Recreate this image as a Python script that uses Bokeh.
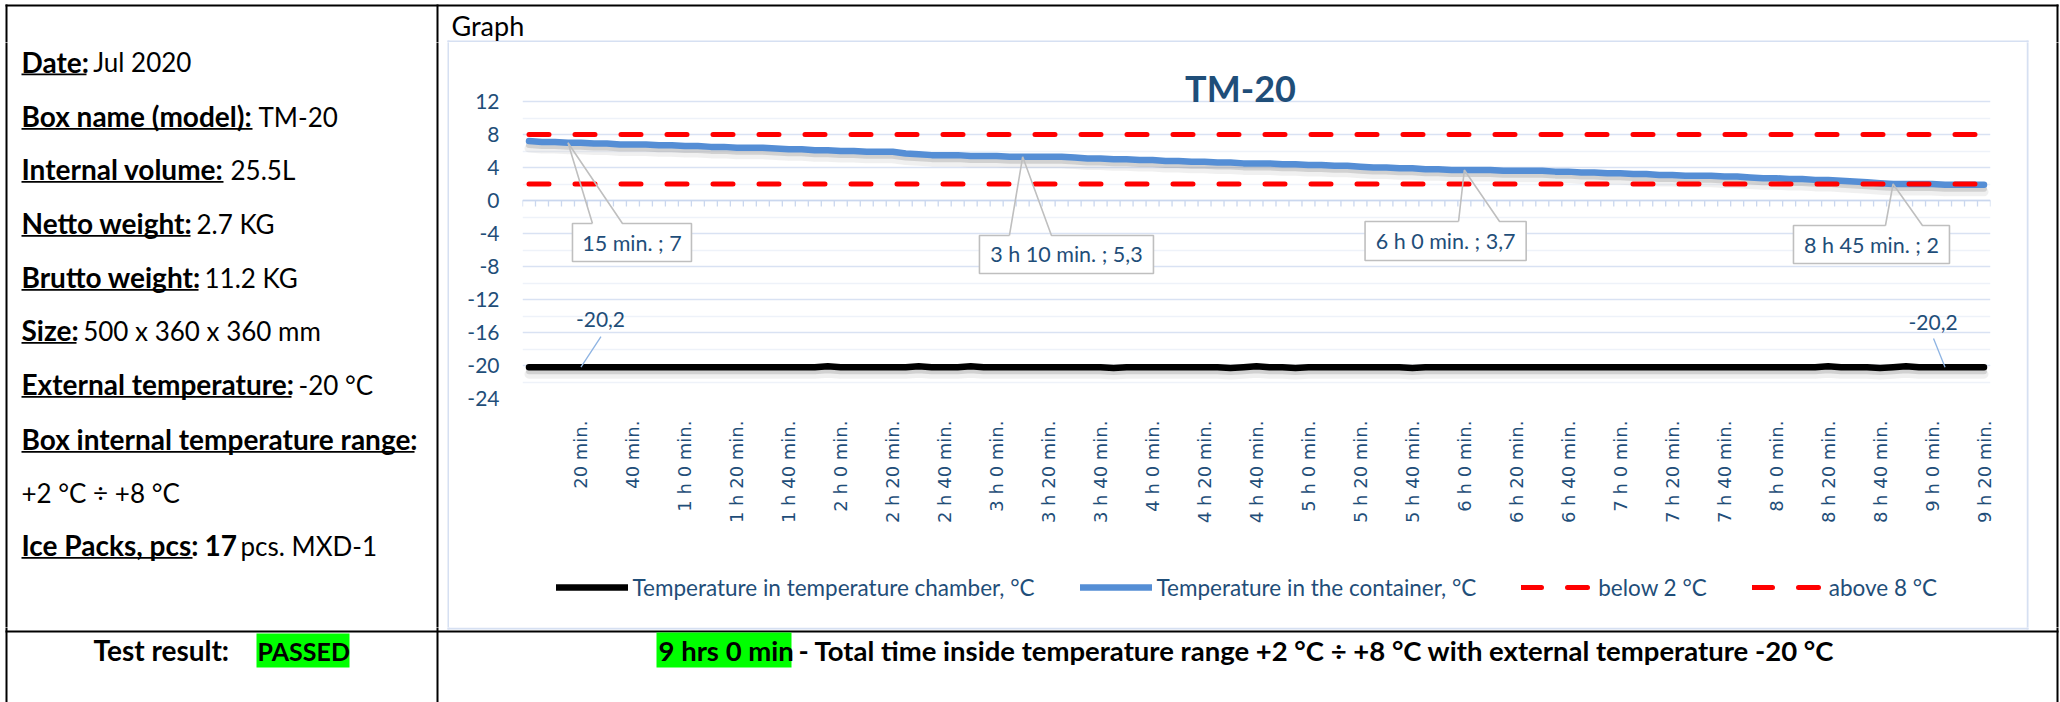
import math
from bokeh.plotting import figure
from bokeh.layouts import column, row
from bokeh.models import (ColumnDataSource, Range1d, FixedTicker, Legend, LegendItem)
from bokeh.core.properties import value
from bokeh.transform import dodge
from bokeh.embed import file_html
from bokeh.resources import INLINE

# ---------------------------------------------------------------- data
MINUTES = list(range(0, 565, 5))          # category axis: every 5 minutes

CHAMBER = [
    -20.2, -20.2, -20.2, -20.2, -20.2, -20.2, -20.2, -20.2, -20.2, -20.2,
    -20.2, -20.2, -20.2, -20.2, -20.2, -20.2, -20.2, -20.2, -20.2, -20.2,
    -20.2, -20.2, -20.2, -20.1, -20.2, -20.2, -20.2, -20.2, -20.2, -20.2,
    -20.1, -20.2, -20.2, -20.2, -20.1, -20.2, -20.2, -20.2, -20.2, -20.2,
    -20.2, -20.2, -20.2, -20.2, -20.2, -20.3, -20.2, -20.2, -20.2, -20.2,
    -20.2, -20.2, -20.2, -20.2, -20.3, -20.2, -20.1, -20.2, -20.2, -20.3,
    -20.2, -20.2, -20.2, -20.2, -20.2, -20.2, -20.2, -20.2, -20.3, -20.2,
    -20.2, -20.2, -20.2, -20.2, -20.2, -20.2, -20.2, -20.2, -20.2, -20.2,
    -20.2, -20.2, -20.2, -20.2, -20.2, -20.2, -20.2, -20.2, -20.2, -20.2,
    -20.2, -20.2, -20.2, -20.2, -20.2, -20.2, -20.2, -20.2, -20.2, -20.2,
    -20.1, -20.2, -20.2, -20.2, -20.3, -20.2, -20.1, -20.2, -20.2, -20.2,
    -20.2, -20.2, -20.2,
]

CONTAINER = [
    7.2, 7.1, 7.1, 7.0, 7.0, 6.9, 6.9, 6.8, 6.8, 6.8,
    6.7, 6.7, 6.6, 6.6, 6.5, 6.5, 6.4, 6.4, 6.4, 6.3,
    6.2, 6.2, 6.1, 6.1, 6.0, 6.0, 5.9, 5.9, 5.9, 5.7,
    5.6, 5.5, 5.5, 5.5, 5.4, 5.4, 5.4, 5.3, 5.3, 5.3,
    5.3, 5.3, 5.2, 5.1, 5.1, 5.0, 5.0, 4.9, 4.9, 4.8,
    4.8, 4.7, 4.7, 4.6, 4.6, 4.5, 4.5, 4.5, 4.4, 4.4,
    4.3, 4.3, 4.2, 4.2, 4.1, 4.0, 4.0, 3.9, 3.9, 3.8,
    3.8, 3.7, 3.7, 3.7, 3.7, 3.6, 3.6, 3.6, 3.6, 3.5,
    3.5, 3.4, 3.4, 3.3, 3.3, 3.2, 3.2, 3.1, 3.1, 3.0,
    3.0, 3.0, 2.9, 2.9, 2.8, 2.7, 2.7, 2.6, 2.6, 2.5,
    2.5, 2.4, 2.3, 2.2, 2.1, 2.0, 2.0, 2.0, 2.0, 1.9,
    1.9, 1.9, 1.9,
]

LOWER_LIMIT = 2
UPPER_LIMIT = 8

SERIES_NAMES = ["Temperature in temperature chamber, °C",
                "Temperature in the container, °C",
                "below 2 °C", "above 8 °C"]

X_TICKS = list(range(20, 565, 20))
X_TICK_LABELS = ["20 min.", "40 min.",
                 "1 h 0 min.", "1 h 20 min.", "1 h 40 min.",
                 "2 h 0 min.", "2 h 20 min.", "2 h 40 min.",
                 "3 h 0 min.", "3 h 20 min.", "3 h 40 min.",
                 "4 h 0 min.", "4 h 20 min.", "4 h 40 min.",
                 "5 h 0 min.", "5 h 20 min.", "5 h 40 min.",
                 "6 h 0 min.", "6 h 20 min.", "6 h 40 min.",
                 "7 h 0 min.", "7 h 20 min.", "7 h 40 min.",
                 "8 h 0 min.", "8 h 20 min.", "8 h 40 min.",
                 "9 h 0 min.", "9 h 20 min."]
Y_TICKS = [12, 8, 4, 0, -4, -8, -12, -16, -20, -24]
Y_TICK_LABELS = ["12", "8", "4", "0", "-4", "-8", "-12", "-16", "-20", "-24"]
Y_MINOR_TICKS = [10, 6, 2, -2, -6, -10, -14, -18, -22]

CONTAINER_CALLOUT_IDX = [3, 38, 72, 105]
CHAMBER_CALLOUT_IDX = [4, 109]

CHART_TITLE = "TM-20"
PANEL_TITLE = "Graph"

INFO_LABELS = ["Date:", "Box name (model):", "Internal volume:", "Netto weight:",
               "Brutto weight:", "Size:", "External temperature:",
               "Box internal temperature range:", "", "Ice Packs, pcs:"]
INFO_BOLD_VALUES = ["", "", "", "", "", "", "", "", "", "17"]
INFO_VALUES = ["Jul 2020", "TM-20", "25.5L", "2.7 KG", "11.2 KG",
               "500 x 360 x 360 mm", "-20 °C", "", "+2 °C ÷ +8 °C", "pcs. MXD-1"]

RESULT_LABEL = "Test result:"
RESULT_VALUE = "PASSED"
TIME_INSIDE = "9 hrs 0 min"
TIME_TEXT = "- Total time inside temperature range +2 °C ÷ +8 °C  with external temperature  -20 °C"

# ---------------------------------------------------------------- layout constants
W, H = 2060, 702
CX0, CX1, CY0, CY1 = 449, 2026, 42, 627        # chart area (page px)
LEG_Y0 = 560                                   # legend strip top
FRAME_L, FRAME_R = 522, 1990                   # plot area
FRAME_T, GRID_T, FRAME_B = 60, 101, 398        # frame top, y=12 line, y=-24 line
X_START, X_END = MINUTES[0] - 2.5, MINUTES[-1] + 2.5
PX_PER_MIN = (FRAME_R - FRAME_L) / (X_END - X_START)
PX_PER_DEG = (FRAME_B - GRID_T) / (Y_TICKS[0] - Y_TICKS[-1])
Y_START = Y_TICKS[-1]
Y_END = Y_TICKS[0] + (GRID_T - FRAME_T) / PX_PER_DEG


def X(px):
    return X_START + (px - FRAME_L) / PX_PER_MIN


def Y(py):
    return Y_END - (py - FRAME_T) / PX_PER_DEG


DARK = "#1F4E79"
BLUE = "#558ED5"
RED = "#FF0000"
GRID = "#D9E2F3"
MINOR_GRID = "#EEF2F9"
FONT = "Lato"
BASE_SHIFT = 0.3          # alphabetic baseline correction (fraction of font size)

TABLE_RECTS = [(5, 2058, 4, 6), (5, 7, 4, 702), (2056, 2058, 4, 702),
               (436, 438, 4, 702), (5, 2058, 630, 632)]
CHART_BOX_RECTS = [(447, 2028, 40, 42), (447, 449, 40, 629),
                   (2026, 2028, 40, 629), (447, 2028, 627, 629)]


def bare(width, height, xr, yr):
    f = figure(width=width, height=height, title=None, x_range=xr, y_range=yr,
               output_backend="svg", toolbar_location=None,
               x_axis_location=None, y_axis_location=None, min_border=0,
               background_fill_color="white", border_fill_color="white",
               frame_align=False)
    f.outline_line_color = None
    f.grid.grid_line_color = None
    return f


def plain(x0, x1, y0, y1):
    f = bare(x1 - x0, y1 - y0, Range1d(x0, x1), Range1d(y1, y0))
    f.quad(left=[r[0] for r in CHART_BOX_RECTS], right=[r[1] for r in CHART_BOX_RECTS],
           top=[r[2] for r in CHART_BOX_RECTS], bottom=[r[3] for r in CHART_BOX_RECTS],
           fill_color="#D6E0F2", line_color=None)
    f.quad(left=[r[0] for r in TABLE_RECTS], right=[r[1] for r in TABLE_RECTS],
           top=[r[2] for r in TABLE_RECTS], bottom=[r[3] for r in TABLE_RECTS],
           fill_color="black", line_color=None)
    return f


def put(f, x, y, s, size, bold=False, color="black", align="left"):
    f.text(x=[x], y=[y - BASE_SHIFT * size], text=[s], text_font=value(FONT),
           text_font_size=f"{size}px",
           text_font_style="bold" if bold else "normal", text_color=color,
           text_align=align, text_baseline="alphabetic")


# ---------------------------------------------------------------- top strip
top = plain(0, W, 0, CY0)
put(top, 451, 33, PANEL_TITLE, 27)

# ---------------------------------------------------------------- left column
left = plain(0, CX0, CY0, CY1)
INFO_BASE = [69.5, 124, 177, 231, 285, 338, 392, 447, 500, 553]
INFO_UNDERLINE_END = [86, 252, 223, 190, 198, 76, 291, 414, 0, 192]
INFO_BOLD_X = [0, 0, 0, 0, 0, 0, 0, 0, 0, 204]
INFO_VALUE_X = [92.7, 258, 230, 196, 204, 82.7, 298, 0, 21, 240]
ul_l, ul_r, ul_t, ul_b = [], [], [], []
for i, lab in enumerate(INFO_LABELS):
    yb = INFO_BASE[i]
    if lab:
        put(left, 21, yb, lab, 28, bold=True)
        ul_l.append(21); ul_r.append(INFO_UNDERLINE_END[i])
        ul_t.append(yb + 3.5); ul_b.append(yb + 5.3)
    if INFO_BOLD_VALUES[i]:
        put(left, INFO_BOLD_X[i], yb, INFO_BOLD_VALUES[i], 28, bold=True)
    if INFO_VALUES[i]:
        put(left, INFO_VALUE_X[i], yb, INFO_VALUES[i], 26)
left.quad(left=ul_l, right=ul_r, top=ul_t, bottom=ul_b, fill_color="black", line_color=None)

# ---------------------------------------------------------------- right strip
right = plain(CX1, W, CY0, CY1)

# ---------------------------------------------------------------- bottom row
bottom = plain(0, W, CY1, H)
bottom.quad(left=[256, 656], right=[349, 791], top=[633, 632], bottom=[667, 667],
            fill_color="#00FF00", line_color=None)
put(bottom, 93, 658, RESULT_LABEL, 28, bold=True)
put(bottom, 257, 658, RESULT_VALUE, 25, bold=True)
put(bottom, 658, 658, TIME_INSIDE, 27.5, bold=True)
put(bottom, 798, 658, TIME_TEXT, 27.5, bold=True)

# ---------------------------------------------------------------- chart
p = figure(width=CX1 - CX0, height=LEG_Y0 - CY0, title=None,
           x_range=Range1d(X_START, X_END), y_range=Range1d(Y_START, Y_END),
           output_backend="svg", toolbar_location=None,
           min_border_left=FRAME_L - CX0, min_border_right=CX1 - FRAME_R,
           min_border_top=FRAME_T - CY0, min_border_bottom=LEG_Y0 - FRAME_B,
           background_fill_color="white", border_fill_color="white",
           frame_align=False)
p.outline_line_color = None

p.yaxis.ticker = FixedTicker(ticks=Y_TICKS)
p.yaxis.major_label_overrides = dict(zip(Y_TICKS, Y_TICK_LABELS))
p.yaxis.axis_line_color = None
p.yaxis.major_tick_line_color = None
p.yaxis.minor_tick_line_color = None
p.yaxis.major_tick_out = 0
p.yaxis.major_tick_in = 0
p.yaxis.major_label_standoff = 23
p.yaxis.major_label_text_font = FONT
p.yaxis.major_label_text_font_size = "21px"
p.yaxis.major_label_text_color = DARK

p.xaxis.ticker = FixedTicker(ticks=X_TICKS)
p.xaxis.major_label_overrides = dict(zip(X_TICKS, X_TICK_LABELS))
p.xaxis.major_label_orientation = math.pi / 2
p.xaxis.axis_line_color = None
p.xaxis.major_tick_line_color = None
p.xaxis.minor_tick_line_color = None
p.xaxis.major_tick_out = 0
p.xaxis.major_tick_in = 0
p.xaxis.major_label_standoff = 22
p.xaxis.major_label_text_font = "DejaVu Sans"
p.xaxis.major_label_text_font_size = "18px"
p.xaxis.major_label_text_color = DARK

p.xgrid.grid_line_color = None
p.ygrid.ticker = FixedTicker(ticks=Y_TICKS, minor_ticks=Y_MINOR_TICKS)
p.ygrid.grid_line_color = GRID
p.ygrid.grid_line_width = 1.3
p.ygrid.minor_grid_line_color = MINOR_GRID
p.ygrid.minor_grid_line_width = 1.3

# category axis crossing at 0 with a tick at every category boundary
bounds = [m - 2.5 for m in MINUTES] + [MINUTES[-1] + 2.5]
p.segment(x0=[bounds[0]], y0=[0], x1=[bounds[-1]], y1=[0], line_color="#CAD7EE", line_width=1.5)
p.segment(x0=bounds, y0=[0] * len(bounds), x1=bounds,
          y1=[-6 / PX_PER_DEG] * len(bounds), line_color="#CAD7EE", line_width=1.3)

src = ColumnDataSource(dict(t=MINUTES, chamber=CHAMBER, container=CONTAINER,
                            low=[LOWER_LIMIT for _ in MINUTES],
                            high=[UPPER_LIMIT for _ in MINUTES]))

for col in ("chamber", "container"):
    p.line("t", dodge(col, -7 / PX_PER_DEG), source=src, line_color="#808080",
           line_alpha=0.12, line_width=9, line_join="round", line_cap="round")
    p.line("t", dodge(col, -4 / PX_PER_DEG), source=src, line_color="#808080",
           line_alpha=0.28, line_width=6, line_join="round", line_cap="round")

SERIES_COLS = ("chamber", "container", "low", "high")
STYLES = [dict(line_color="black", line_width=6.5, line_join="round", line_cap="round"),
          dict(line_color=BLUE, line_width=6.5, line_join="round", line_cap="round"),
          dict(line_color=RED, line_width=5, line_dash="20 26", line_cap="round"),
          dict(line_color=RED, line_width=5, line_dash="20 26", line_cap="round")]
for col, st in zip(SERIES_COLS, STYLES):
    p.line("t", col, source=src, **st)


def minutes_label(m):
    return f"{m} min." if m < 60 else f"{m // 60} h {m % 60} min."


def num_label(v):
    return f"{v:g}".replace(".", ",")


CALLOUT_BOX = [  # left, right, top, bottom, wedge_left, wedge_right (px from point)
    (4.5, 123.5, 80.75, 118.75, 24.5, 54.5),
    (-43.2, 130.8, 78.7, 116.7, -13.2, 28.8),
    (-99.3, 61.8, 51.5, 90.5, -5.8, 35.2),
    (-99.6, 56.4, 41.5, 79.5, -7.6, 29.4),
]
bl, br, bt, bb, ox, oy, tx, ty, tt = [], [], [], [], [], [], [], [], []
for idx, (l, r, t, b, w0, w1) in zip(CONTAINER_CALLOUT_IDX, CALLOUT_BOX):
    ax, ay = MINUTES[idx], CONTAINER[idx]
    fx = lambda d: ax + d / PX_PER_MIN
    fy = lambda d: ay - d / PX_PER_DEG
    bl.append(fx(l)); br.append(fx(r)); bt.append(fy(t)); bb.append(fy(b))
    ox.append([fx(w0), fx(l), fx(l), fx(r), fx(r), fx(w1), ax, fx(w0)])
    oy.append([fy(t), fy(t), fy(b), fy(b), fy(t), fy(t), ay, fy(t)])
    tx.append(fx((l + r) / 2)); ty.append(fy((t + b) / 2))
    tt.append(f"{minutes_label(MINUTES[idx])} ; {num_label(CONTAINER[idx])}")
p.quad(left=bl, right=br, top=bt, bottom=bb, fill_color="white", line_color=None)
p.multi_line(xs=ox, ys=oy, line_color="#BFBFBF", line_width=1.6)
p.text(x=tx, y=ty, text=tt, text_align="center", text_baseline="middle",
       text_font=value(FONT), text_font_size="21.5px", text_color=DARK)

CH_OFF = [(19.5, -48, 20, -30.6), (-12, -45, -11.5, -28.6)]
lx, ly, lt, sx0, sy0, sx1, sy1 = [], [], [], [], [], [], []
for idx, (dxl, dyl, dxs, dys) in zip(CHAMBER_CALLOUT_IDX, CH_OFF):
    ax, ay = MINUTES[idx], CHAMBER[idx]
    lx.append(ax + dxl / PX_PER_MIN); ly.append(ay - dyl / PX_PER_DEG)
    lt.append(num_label(CHAMBER[idx]))
    sx0.append(ax + dxs / PX_PER_MIN); sy0.append(ay - dys / PX_PER_DEG)
    sx1.append(ax); sy1.append(ay)
p.segment(x0=sx0, y0=sy0, x1=sx1, y1=sy1, line_color="#8DB3E2", line_width=1.3)
p.text(x=lx, y=ly, text=lt, text_align="center", text_baseline="middle",
       text_font=value(FONT), text_font_size="21px", text_color=DARK)

p.text(x=[X(1240)], y=[Y(98 - BASE_SHIFT * 36)], text=[CHART_TITLE], text_align="center",
       text_baseline="alphabetic", text_font=value(FONT), text_font_size="36px",
       text_font_style="bold", text_color=DARK)

# ---------------------------------------------------------------- legend strip
# same series/styles; the strip's ranges keep the data itself out of view
lg = bare(CX1 - CX0, CY1 - LEG_Y0, Range1d(0, 1), Range1d(0, 1))
swatches = [lg.line("t", col, source=src, **st) for col, st in zip(SERIES_COLS, STYLES)]
legend = Legend(items=[LegendItem(label=n, renderers=[r]) for n, r in zip(SERIES_NAMES, swatches)],
                orientation="horizontal", location=(555.5 - CX0, CY1 - 600.5),
                glyph_width=72, glyph_height=24, label_height=24,
                label_standoff=5, spacing=45, padding=0, margin=0,
                border_line_color=None, background_fill_alpha=0,
                label_text_font=FONT, label_text_font_size="22.5px",
                label_text_color=DARK)
lg.add_layout(legend)

layout = column(top, row(left, column(p, lg), right), bottom)
open("out.html", "w").write(file_html(layout, INLINE))
